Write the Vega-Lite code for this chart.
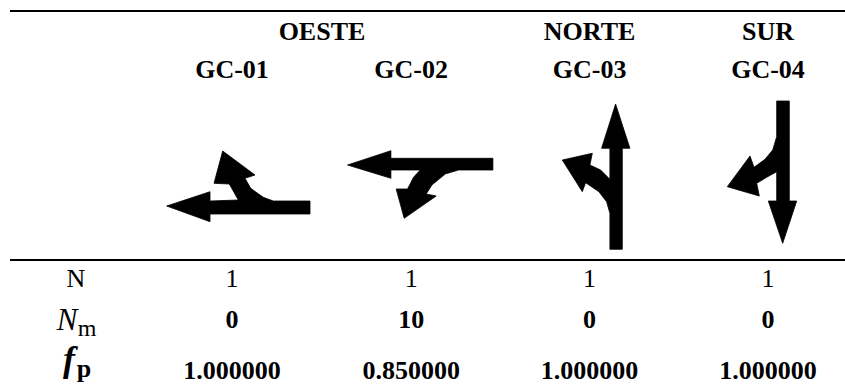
{
"$schema":"https://vega.github.io/schema/vega-lite/v6.json",
"width":845,"height":387,"padding":0,"autosize":{"type":"none"},"background":"white",
"config":{"view":{"stroke":null},"text":{"font":"Liberation Serif","fontSize":26,"color":"#000000","baseline":"alphabetic","align":"center"}},
"encoding":{
"x":{"field":"col","type":"quantitative","axis":null,"scale":{"domain":[-0.5,0,1,1.5,4,4.43],"range":[10,76,232,322,768,845],"nice":false,"zero":false}},
"y":{"field":"row","type":"quantitative","axis":null,"scale":{"domain":[0,1,2,3,3.5,4,5,6],"range":[11,40,78,185,260,287,328,379],"nice":false,"zero":false}}
},
"layer":[
{"data":{"values":[{"row":0,"col":-0.5,"end":4.43},{"row":3.5,"col":-0.5,"end":4.43}]},
"mark":{"type":"rule","strokeWidth":2,"color":"#000000"},
"encoding":{"x2":{"field":"end"}}},
{"data":{"values":[
{"row":3,"col":1,"arrow":"GC-01"},{"row":3,"col":2,"arrow":"GC-02"},{"row":3,"col":3,"arrow":"GC-03"},{"row":3,"col":4,"arrow":"GC-04"}]},
"mark":{"type":"point","filled":true,"size":4,"opacity":1,"fill":"#000000","stroke":"#000000","strokeWidth":0.8},
"encoding":{"shape":{"field":"arrow","type":"nominal","legend":null,"scale":{"domain":["GC-01","GC-02","GC-03","GC-04"],"range":[
"M-65.3 21L-22 6.7L-22 16L6.3 15L-2.7 -1L-18 -1.7L-9.3 -34L23 -10L13 -6.7L18.7 3.3L31.3 12.3L41.3 16L78 16L78 29L-22 29L-22 36.7Z",
"M-63.7 -20L-20.3 -34.3L-20.3 -26.7L81.7 -26.7L81.7 -15L47.3 -15L34 -11L20.7 0L15 9L25 11L-7 33.3L-15 4L-3.7 4L2.3 -7.7L9 -15L-20.3 -15L-20.3 -6.7Z",
"M26 -81L40.3 -36.7L32.7 -36.7L32.7 64.3L20.3 64.3L20.3 28.3L17 16.7L9.3 6.7L-4 -2.3L-7.3 6.7L-27.3 -25L2.7 -31.7L0.3 -20L11 -15L20.3 -5.7L20.3 -36.7L12 -36.7Z",
"M8.7 -84L21.3 -84L21.3 16L28.7 16L14.7 58.3L0.3 16L8.7 16L8.7 -13.3L-1.3 -7.7L-11.3 -1.7L-8.7 11L-40.7 1.7L-18 -29L-14 -17.7L-3 -25.7L4.7 -35L8.7 -48.3Z"
]}}}},
{"data":{"values":[
{"row":1,"col":1.5,"label":"OESTE"},{"row":1,"col":3,"label":"NORTE"},{"row":1,"col":4,"label":"SUR"},
{"row":2,"col":1,"label":"GC-01"},{"row":2,"col":2,"label":"GC-02"},{"row":2,"col":3,"label":"GC-03"},{"row":2,"col":4,"label":"GC-04"},
{"row":5,"col":1,"label":"0"},{"row":5,"col":2,"label":"10"},{"row":5,"col":3,"label":"0"},{"row":5,"col":4,"label":"0"},
{"row":6,"col":1,"label":"1.000000"},{"row":6,"col":2,"label":"0.850000"},{"row":6,"col":3,"label":"1.000000"},{"row":6,"col":4,"label":"1.000000"}]},
"mark":{"type":"text","fontWeight":"bold"},
"encoding":{"text":{"field":"label"}}},
{"data":{"values":[
{"row":4,"col":0,"label":"N"},{"row":4,"col":1,"label":"1"},{"row":4,"col":2,"label":"1"},{"row":4,"col":3,"label":"1"},{"row":4,"col":4,"label":"1"}]},
"mark":{"type":"text"},
"encoding":{"text":{"field":"label"}}},
{"data":{"values":[{"row":5,"col":0,"label":"N"}]},
"mark":{"type":"text","fontStyle":"italic","fontSize":31,"dx":-9,"dy":2},
"encoding":{"text":{"field":"label"}}},
{"data":{"values":[{"row":5,"col":0,"label":"m"}]},
"mark":{"type":"text","fontSize":24,"dx":11,"dy":8},
"encoding":{"text":{"field":"label"}}},
{"data":{"values":[{"row":6,"col":0,"label":"f"}]},
"mark":{"type":"text","fontStyle":"italic","fontWeight":"bold","fontSize":36,"dx":-7,"dy":-8},
"encoding":{"text":{"field":"label"}}},
{"data":{"values":[{"row":6,"col":0,"label":"p"}]},
"mark":{"type":"text","fontWeight":"bold","fontSize":26,"dx":8,"dy":-2},
"encoding":{"text":{"field":"label"}}}
]
}
